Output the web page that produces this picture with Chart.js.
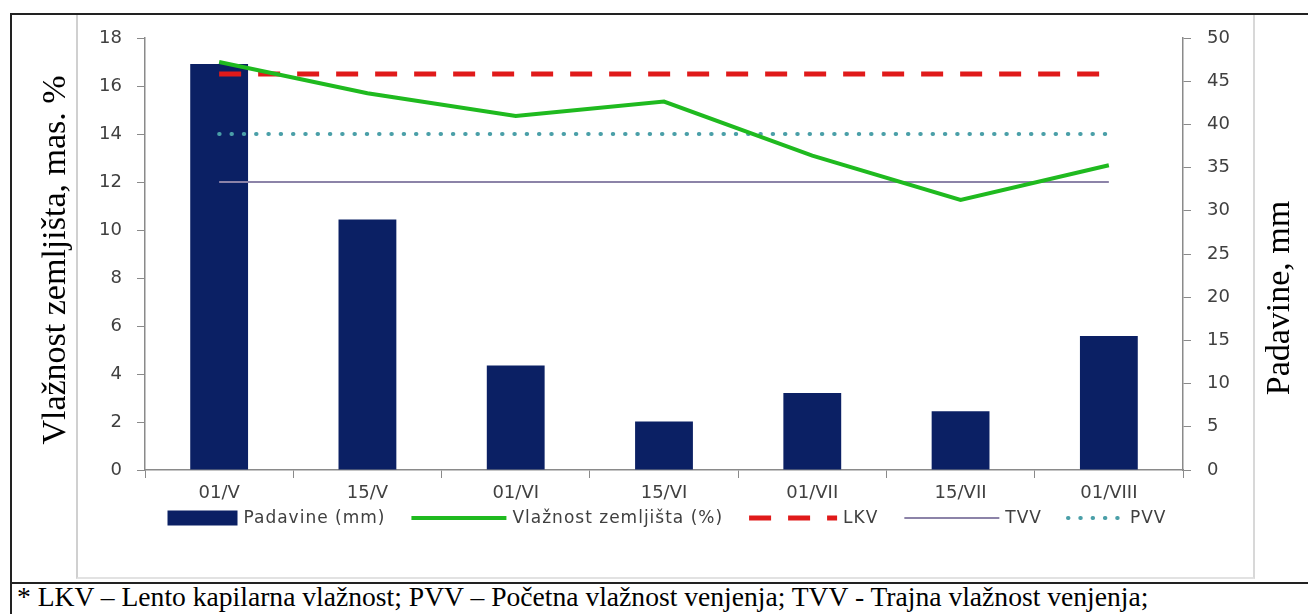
<!DOCTYPE html>
<html>
<head>
<meta charset="utf-8">
<script src="https://cdn.jsdelivr.net/npm/chart.js@4/dist/chart.umd.min.js"></script>
<style>
  html, body { margin: 0; padding: 0; background: #fff; overflow: hidden; }
  #wrap { position: relative; width: 1308px; height: 614px; }
  #outer { position: absolute; left: 10px; top: 13px; width: 1320px; height: 640px; border: 2px solid #222; box-sizing: border-box; }
  #inner { position: absolute; left: 76px; top: 15px; width: 1179px; height: 564px; border-left: 2px solid #d0d0d0; border-right: 2px solid #d8d8d8; border-bottom: 2px solid #e2e2e2; box-sizing: border-box; }
  #sep { position: absolute; left: 10px; top: 582px; width: 1300px; height: 0; border-top: 2px solid #222; }
  #note { position: absolute; left: 17px; top: 583px; font-family: "Liberation Serif", serif; font-size: 27.6px; line-height: 27px; color: #000; white-space: nowrap; }
  #chart { position: absolute; left: 0; top: 0; }
</style>
</head>
<body>
<div id="wrap">
  <div id="outer"></div>
  <div id="inner"></div>
  <div id="sep"></div>
  <div id="note">* LKV – Lento kapilarna vlažnost; PVV – Početna vlažnost venjenja; TVV - Trajna vlažnost venjenja;</div>
  <canvas id="chart" width="1308" height="614"></canvas>
</div>
<script>
const labels = ['01/V', '15/V', '01/VI', '15/VI', '01/VII', '15/VII', '01/VIII'];
const padavine = [47.0, 29.0, 12.1, 5.6, 8.9, 6.8, 15.5];
const vlaznost = [17.0, 15.7, 14.75, 15.35, 13.1, 11.25, 12.7];
const lkv = [16.5, 16.5, 16.5, 16.5, 16.5, 16.5, 16.5];
const tvv = [12, 12, 12, 12, 12, 12, 12];
const pvv = [14, 14, 14, 14, 14, 14, 14];

const tickFont = { family: 'DejaVu Sans', size: 18 };
const axisGrey = '#8a8a8a';
const legendSymbolWidths = [70, 95, 88, 95, 56];

// rotated axis titles, drawn where the original had them
const titles = {
  id: 'titles',
  afterDraw(chart) {
    const ctx = chart.ctx;
    ctx.save();
    ctx.fillStyle = '#000';
    ctx.font = '34px "Liberation Serif"';
    ctx.textAlign = 'center';
    ctx.textBaseline = 'alphabetic';
    ctx.translate(65, 260);
    ctx.rotate(-Math.PI / 2);
    ctx.fillText('Vlažnost zemljišta, mas. %', 0, 0);
    ctx.restore();
    ctx.save();
    ctx.fillStyle = '#000';
    ctx.font = '34px "Liberation Serif"';
    ctx.textAlign = 'center';
    ctx.textBaseline = 'alphabetic';
    ctx.translate(1289, 298);
    ctx.rotate(-Math.PI / 2);
    ctx.fillText('Padavine, mm', 0, 0);
    ctx.restore();
  }
};

// excel-like legend: each entry gets its own symbol width, dashes kept
const excelLegend = {
  id: 'excelLegend',
  afterDraw(chart) {
    const ctx = chart.ctx;
    const sets = chart.data.datasets;
    ctx.save();
    ctx.font = '17px "DejaVu Sans"';
    ctx.letterSpacing = '1px';
    const gapText = 6, gapItem = 26;
    let total = 0;
    sets.forEach((ds, i) => {
      total += legendSymbolWidths[i] + gapText + ctx.measureText(ds.label).width;
      if (i < sets.length - 1) total += gapItem;
    });
    let x = 667 - total / 2;
    const y = 518;
    sets.forEach((ds, i) => {
      const w = legendSymbolWidths[i];
      if (ds.type === 'bar') {
        ctx.fillStyle = ds.backgroundColor;
        ctx.fillRect(x, y - 7.5, w, 15);
      } else {
        ctx.beginPath();
        ctx.strokeStyle = ds.borderColor;
        ctx.lineWidth = ds.borderWidth;
        ctx.lineCap = ds.borderCapStyle || 'butt';
        ctx.setLineDash(ds.borderDash || []);
        ctx.moveTo(x, y);
        ctx.lineTo(x + w, y);
        ctx.stroke();
        ctx.setLineDash([]);
      }
      x += w + gapText;
      ctx.fillStyle = '#404040';
      ctx.textAlign = 'left';
      ctx.textBaseline = 'middle';
      ctx.fillText(ds.label, x, y + 1);
      x += ctx.measureText(ds.label).width + gapItem;
    });
    ctx.restore();
  }
};

new Chart(document.getElementById('chart'), {
  data: {
    labels: labels,
    datasets: [
      {
        type: 'bar',
        label: 'Padavine (mm)',
        data: padavine,
        yAxisID: 'y1',
        backgroundColor: '#0b2064',
        borderWidth: 0,
        categoryPercentage: 1,
        barPercentage: 0.39,
        order: 10
      },
      {
        type: 'line',
        label: 'Vlažnost zemljišta (%)',
        data: vlaznost,
        yAxisID: 'y',
        borderColor: '#1fba1f',
        backgroundColor: '#1fba1f',
        borderWidth: 4,
        pointRadius: 0,
        tension: 0,
        order: 0
      },
      {
        type: 'line',
        label: 'LKV',
        data: lkv,
        yAxisID: 'y',
        borderColor: '#e01a1a',
        backgroundColor: '#e01a1a',
        borderWidth: 5,
        borderDash: [22, 17],
        pointRadius: 0,
        order: 1
      },
      {
        type: 'line',
        label: 'TVV',
        data: tvv,
        yAxisID: 'y',
        borderColor: '#8c83a8',
        backgroundColor: '#8c83a8',
        borderWidth: 2,
        pointRadius: 0,
        order: 3
      },
      {
        type: 'line',
        label: 'PVV',
        data: pvv,
        yAxisID: 'y',
        borderColor: '#4a9fa8',
        backgroundColor: '#4a9fa8',
        borderWidth: 4,
        borderDash: [0.5, 11.8],
        borderCapStyle: 'round',
        pointRadius: 0,
        order: 2
      }
    ]
  },
  options: {
    responsive: false,
    animation: false,
    layout: { padding: { left: 76, right: 65, top: 38, bottom: 104 } },
    plugins: {
      title: { display: false },
      tooltip: { enabled: false },
      legend: { display: false }
    },
    scales: {
      x: {
        offset: true,
        grid: { offset: true, drawOnChartArea: false, drawTicks: true, tickLength: 8, color: axisGrey },
        border: { color: axisGrey, width: 1.5 },
        ticks: { color: '#404040', font: tickFont, padding: 5, maxRotation: 0 },
        afterFit(scale) { scale.height = 40; }
      },
      y: {
        position: 'left',
        min: 0,
        max: 18,
        ticks: { stepSize: 2, color: '#404040', font: tickFont, padding: 15 },
        grid: { drawOnChartArea: false, drawTicks: true, tickLength: 8, color: axisGrey },
        border: { color: axisGrey, width: 1.5 },
        afterFit(scale) { scale.width = 69; }
      },
      y1: {
        position: 'right',
        min: 0,
        max: 50,
        ticks: { stepSize: 5, color: '#404040', font: tickFont, padding: 16 },
        grid: { drawOnChartArea: false, drawTicks: true, tickLength: 8, color: axisGrey },
        border: { color: axisGrey, width: 1.5 },
        afterFit(scale) { scale.width = 60; }
      }
    }
  },
  plugins: [titles, excelLegend]
});
</script>
</body>
</html>
